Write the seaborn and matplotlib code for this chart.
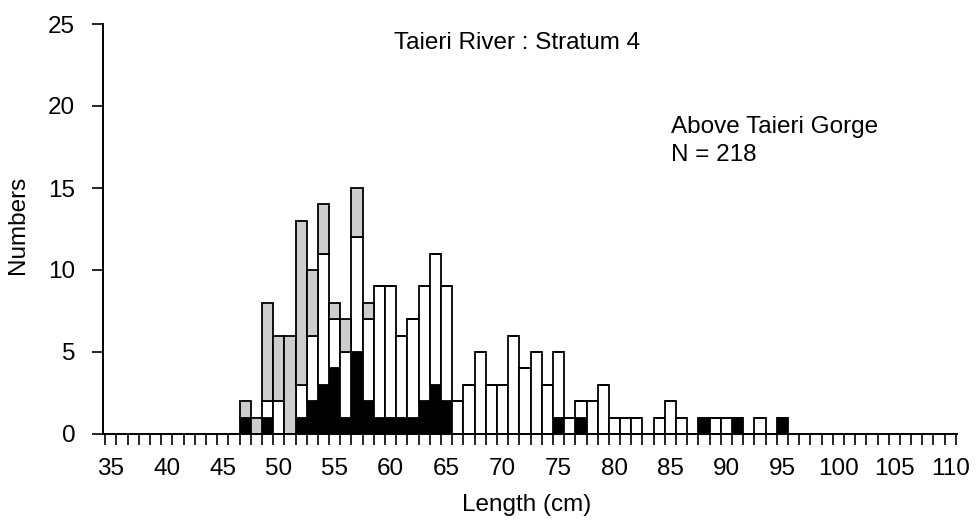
import numpy as np
import pandas as pd
import matplotlib
matplotlib.use("Agg")
import matplotlib.pyplot as plt
import seaborn as sns

# ---- data ----
lengths = list(range(47, 96))
black_counts = [1, 0, 1, 0, 0, 1, 2, 3, 4, 1, 5, 2, 1, 1, 1, 1, 2, 3, 2, 0,
                0, 0, 0, 0, 0, 0, 0, 0, 1, 0, 1, 0, 0, 0, 0, 0, 0, 0, 0, 0,
                0, 1, 0, 0, 1, 0, 0, 0, 1]
white_counts = [0, 0, 1, 2, 0, 2, 4, 8, 3, 4, 7, 5, 8, 8, 5, 6, 7, 8, 7, 2,
                3, 5, 3, 3, 6, 4, 5, 3, 4, 1, 1, 2, 3, 1, 1, 1, 0, 1, 2, 1,
                0, 0, 1, 1, 0, 0, 1, 0, 0]
gray_counts = [1, 1, 6, 4, 6, 10, 4, 3, 1, 2, 3, 1, 0, 0, 0, 0, 0, 0, 0, 0,
               0, 0, 0, 0, 0, 0, 0, 0, 0, 0, 0, 0, 0, 0, 0, 0, 0, 0, 0, 0,
               0, 0, 0, 0, 0, 0, 0, 0, 0]
x_tick_labels = list(range(35, 111, 5))
y_ticks = [0, 5, 10, 15, 20, 25]

title_text = "Taieri River : Stratum 4"
note_text = "Above Taieri Gorge\nN = 218"

# long-form table
rows = []
for grp, vals in (("gray", gray_counts), ("white", white_counts), ("black", black_counts)):
    for L, v in zip(lengths, vals):
        rows.append({"length": L, "count": v, "group": grp})
df = pd.DataFrame(rows)

sns.set_style("ticks")
plt.rcParams["font.family"] = ["Liberation Sans", "DejaVu Sans"]
plt.rcParams["text.color"] = "black"
plt.rcParams["xtick.color"] = "black"
plt.rcParams["ytick.color"] = "black"
plt.rcParams["axes.labelcolor"] = "black"
plt.rcParams["axes.edgecolor"] = "black"

FS = 17.5
W, H = 977, 521
fig = plt.figure(figsize=(W / 100, H / 100), dpi=100)
x0, x1, y0, y1 = 103, 957, 24, 434
ax = fig.add_axes([x0 / W, 1 - y1 / H, (x1 - x0) / W, (y1 - y0) / H])

sns.histplot(data=df, x="length", weights="count", hue="group",
             hue_order=["gray", "white", "black"], multiple="stack",
             discrete=True, shrink=1, alpha=1, edgecolor="black", linewidth=1.3,
             palette={"gray": "#cdcdcd", "white": "white", "black": "black"},
             legend=False, ax=ax)

ax.set_xlim(34.3, 110.6)
ax.set_ylim(0, 25)
ax.set_yticks(y_ticks)
ax.set_xticks(x_tick_labels)
ax.set_xticklabels([str(v) for v in x_tick_labels])
ax.set_xticks(np.arange(34.5, 111, 1.0), minor=True)
ax.tick_params(axis="x", which="major", length=0, pad=17, labelsize=FS)
ax.tick_params(axis="x", which="minor", length=8, width=1.2, direction="out")
ax.tick_params(axis="y", which="major", length=8, width=1.2, pad=12, labelsize=FS)
for s in ("top", "right"):
    ax.spines[s].set_visible(False)
for s in ("left", "bottom"):
    ax.spines[s].set_linewidth(1.4)
ax.grid(False)

ax.set_xlabel("Length (cm)", fontsize=FS)
ax.xaxis.label.set_va("center")
ax.xaxis.set_label_coords(0.4965, -0.173)
ax.set_ylabel("Numbers", fontsize=FS)
ax.yaxis.label.set_va("center")
ax.yaxis.set_label_coords(-0.1, 0.51)

fig.text(517 / W, 1 - 43 / H, title_text, ha="center", va="center", fontsize=FS)
fig.text(671 / W, 1 - 141 / H, note_text, ha="left", va="center", fontsize=FS,
         linespacing=1.3)

fig.savefig("out.png", dpi=100)
